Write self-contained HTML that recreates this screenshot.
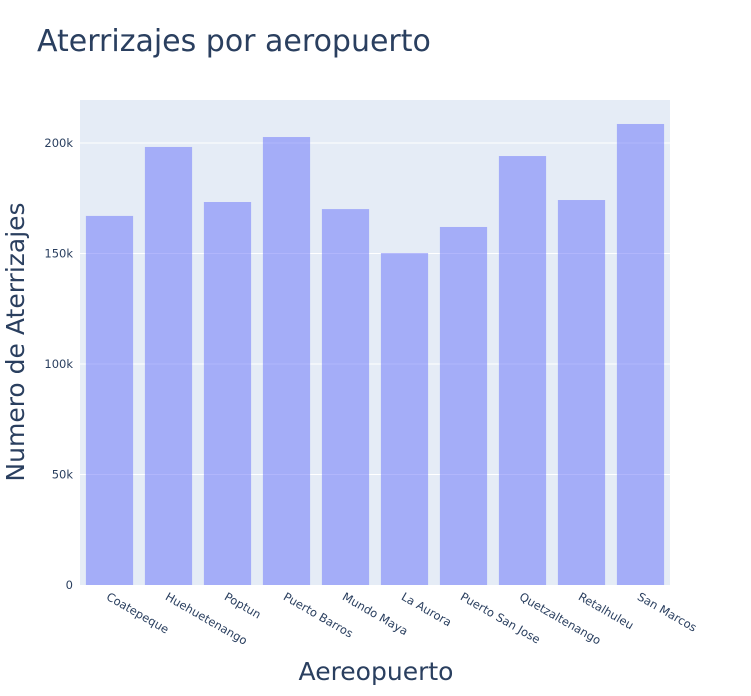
<!DOCTYPE html>
<html><head><meta charset="utf-8"><style>
body{margin:0;background:#fff;font-family:"DejaVu Sans",sans-serif;}
text{font-family:"DejaVu Sans",sans-serif;fill:#2a3f5f;}
</style></head><body>
<svg id="chart" width="751" height="692">
<rect x="0" y="0" width="751" height="692" fill="#fff"/>
<text x="37" y="51" font-size="30">Aterrizajes por aeropuerto</text>
<rect x="80" y="100" width="590" height="485" fill="#e5ecf6"/>
<g id="grid"></g><g id="bars"></g><g id="yticks"></g><g id="xticks"></g>
<text x="376" y="680" font-size="25" text-anchor="middle">Aereopuerto</text>
<text transform="translate(24,342) rotate(-90)" font-size="25" text-anchor="middle">Numero de Aterrizajes</text>
</svg>
<script>
const categories=["Coatepeque","Huehuetenango","Poptun","Puerto Barros","Mundo Maya","La Aurora","Puerto San Jose","Quetzaltenango","Retalhuleu","San Marcos"];
const values=[167000,198200,173300,202700,170100,150200,162000,194100,174200,208600];
const tickValues=[0,50000,100000,150000,200000];
const tickLabels=["0","50k","100k","150k","200k"];
const NS="http://www.w3.org/2000/svg";
const x0=80,pw=590,y0=585,yScale=442/200000;
const band=pw/categories.length;
const y=v=>y0-v*yScale;
const xc=i=>x0+band*(i+0.5);
function mk(t,a,p){const e=document.createElementNS(NS,t);for(const k in a)e.setAttribute(k,a[k]);document.getElementById(p).appendChild(e);return e;}
tickValues.forEach((v,i)=>{
 if(v>0){const g=mk("line",{x1:x0,x2:x0+pw,y1:y(v),y2:y(v),stroke:"#fff","stroke-width":1},"grid");
 
 }
 const t=mk("text",{x:x0-7,y:y(v)+4,"font-size":11.5,"text-anchor":"end"},"yticks");
 t.textContent=tickLabels[i];
 
 
});
categories.forEach((c,i)=>{
 const bw=band*0.8;
 const r=mk("rect",{x:xc(i)-bw/2,y:y(values[i]),width:bw,height:y0-y(values[i]),fill:"#636efa","fill-opacity":0.5},"bars");
 
 
 const t=mk("text",{x:0,y:0,"font-size":11.5,transform:`translate(${xc(i)-4},${y0+14}) rotate(30)`},"xticks");
 t.textContent=c;
 
 
});
</script>
</body></html>
